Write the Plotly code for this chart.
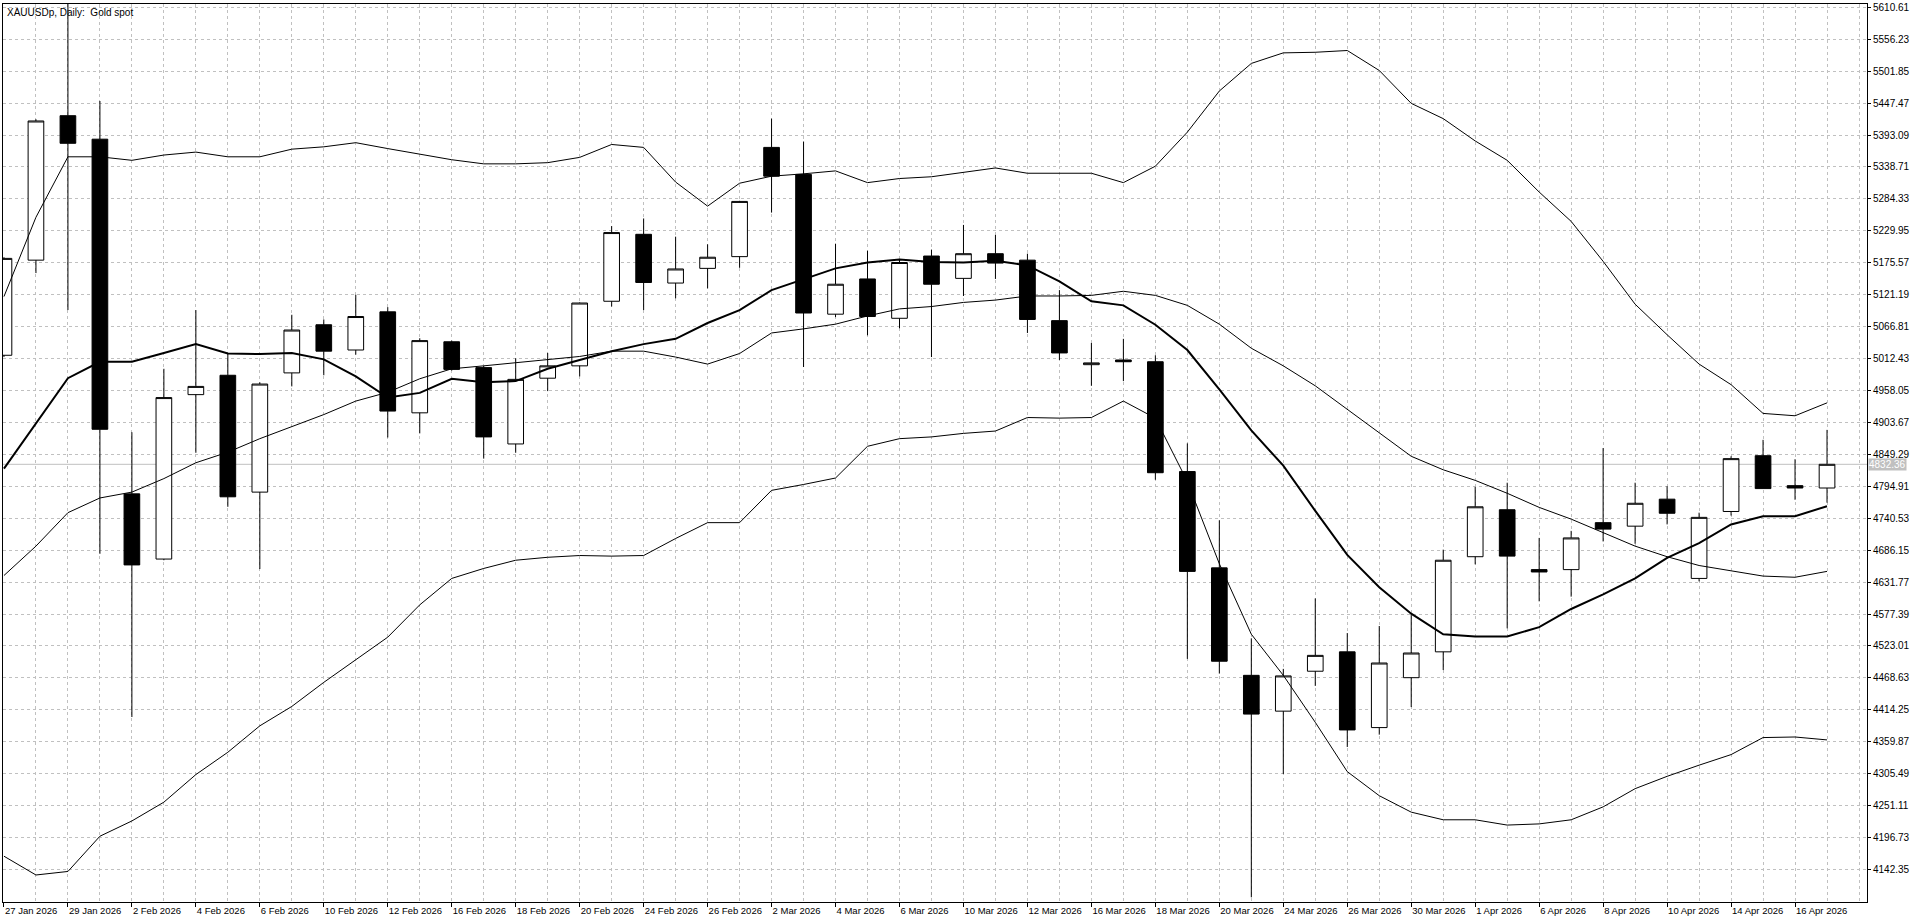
import plotly.graph_objects as go

# daily bars, XAUUSDp
dates = ["27 Jan 2026", "28 Jan 2026", "29 Jan 2026", "30 Jan 2026", "2 Feb 2026", "3 Feb 2026",
         "4 Feb 2026", "5 Feb 2026", "6 Feb 2026", "9 Feb 2026", "10 Feb 2026", "11 Feb 2026",
         "12 Feb 2026", "13 Feb 2026", "16 Feb 2026", "17 Feb 2026", "18 Feb 2026", "19 Feb 2026",
         "20 Feb 2026", "23 Feb 2026", "24 Feb 2026", "25 Feb 2026", "26 Feb 2026", "27 Feb 2026",
         "2 Mar 2026", "3 Mar 2026", "4 Mar 2026", "5 Mar 2026", "6 Mar 2026", "9 Mar 2026",
         "10 Mar 2026", "11 Mar 2026", "12 Mar 2026", "13 Mar 2026", "16 Mar 2026", "17 Mar 2026",
         "18 Mar 2026", "19 Mar 2026", "20 Mar 2026", "23 Mar 2026", "24 Mar 2026", "25 Mar 2026",
         "26 Mar 2026", "27 Mar 2026", "30 Mar 2026", "31 Mar 2026", "1 Apr 2026", "2 Apr 2026",
         "6 Apr 2026", "7 Apr 2026", "8 Apr 2026", "9 Apr 2026", "10 Apr 2026", "13 Apr 2026",
         "14 Apr 2026", "15 Apr 2026", "16 Apr 2026", "17 Apr 2026"]

opens = [5018, 5180, 5426, 5386, 4782, 4671, 4951, 4984, 4785, 4988, 5070, 5027, 5092, 4920,
         5041, 4997, 4867, 4979, 5000, 5110, 5224, 5141, 5166, 5186, 5372, 5326, 5088, 5148,
         5081, 5187, 5149, 5191, 5180, 5077, 5002, 5010, 5007, 4820, 4656, 4473, 4412, 4480,
         4513, 4384, 4469, 4513, 4675, 4755, 4653, 4653, 4733, 4727, 4773, 4638, 4752, 4847,
         4796, 4792]
highs = [5185, 5420, 5626, 5451, 4887, 4995, 5095, 5022, 4972, 5087, 5079, 5121, 5100, 5047,
         5043, 5000, 5013, 5022, 5108, 5238, 5251, 5220, 5207, 5281, 5421, 5382, 5208, 5196,
         5182, 5198, 5240, 5223, 5191, 5129, 5039, 5046, 5018, 4868, 4737, 4536, 4484, 4604,
         4545, 4557, 4577, 4687, 4794, 4801, 4707, 4719, 4860, 4801, 4795, 4750, 4846, 4874,
         4841, 4891]
lows = [5015, 5158, 5095, 4680, 4402, 4669, 4852, 4760, 4654, 4965, 4984, 5019, 4878, 4885,
        4992, 4842, 4852, 4957, 4982, 5101, 5095, 5115, 5132, 5167, 5261, 4998, 5083, 5052,
        5064, 5015, 5119, 5148, 5056, 5010, 4966, 4974, 4806, 4501, 4476, 4095, 4305, 4455,
        4351, 4372, 4419, 4482, 4662, 4553, 4599, 4607, 4701, 4697, 4730, 4633, 4745, 4791,
        4772, 4767]
closes = [5183, 5417, 5379, 4892, 4661, 4946, 4965, 4777, 4969, 5061, 5025, 5084, 4923, 5043,
          4994, 4879, 4977, 5000, 5107, 5227, 5142, 5165, 5185, 5280, 5323, 5090, 5139, 5084,
          5176, 5139, 5191, 5175, 5079, 5022, 5005, 5007, 4818, 4650, 4497, 4407, 4472, 4507,
          4380, 4494, 4511, 4669, 4760, 4676, 4649, 4707, 4722, 4766, 4749, 4742, 4842, 4791,
          4792, 4832.36]

# indicator lines
ma_fast = [4825, 4902, 4979, 5007, 5007, 5022, 5037, 5021, 5020, 5022, 5011, 4982, 4946, 4954,
           4978, 4972, 4974, 4995, 5010, 5025, 5037, 5046, 5073, 5095, 5129, 5148, 5166, 5176,
           5181, 5177, 5176, 5179, 5171, 5144, 5110, 5103, 5070, 5027, 4960, 4890, 4830, 4753,
           4678, 4623, 4578, 4543, 4539, 4539, 4555, 4586, 4611, 4638, 4673, 4698, 4730, 4744,
           4744, 4761]
bb_mid = [4643, 4693, 4750, 4775, 4785, 4808, 4835, 4853, 4876, 4896, 4917, 4940, 4955, 4978,
          4995, 5000, 5005, 5011, 5016, 5025, 5025, 5015, 5003, 5021, 5056, 5063, 5071, 5085,
          5097, 5101, 5108, 5112, 5119, 5119, 5120, 5127, 5120, 5103, 5071, 5030, 5000, 4966,
          4926, 4886, 4846, 4823, 4805, 4783, 4759, 4739, 4716, 4693, 4675, 4660, 4651, 4642,
          4640, 4650]
bb_up = [5118, 5253, 5356, 5356, 5350, 5359, 5364, 5356, 5356, 5369, 5373, 5380, 5370, 5361,
         5351, 5344, 5344, 5346, 5355, 5377, 5372, 5313, 5272, 5311, 5323, 5327, 5332, 5312,
         5319, 5322, 5330, 5337, 5328, 5328, 5328, 5312, 5340, 5398, 5468, 5515, 5533, 5534,
         5537, 5503, 5447, 5421, 5383, 5350, 5296, 5246, 5178, 5105, 5053, 5003, 4968, 4919,
         4915, 4937]
bb_low = [4165, 4133, 4139, 4199, 4225, 4257, 4304, 4342, 4387, 4420, 4461, 4499, 4538, 4593,
          4638, 4655, 4669, 4674, 4677, 4676, 4677, 4706, 4733, 4733, 4788, 4798, 4809, 4863,
          4876, 4879, 4885, 4889, 4912, 4911, 4912, 4940, 4911, 4803, 4663, 4543, 4473, 4393,
          4309, 4268, 4240, 4227, 4227, 4218, 4220, 4227, 4249, 4280, 4301, 4320, 4338, 4367,
          4368, 4363]

price_ticks = [5610.61, 5556.23, 5501.85, 5447.47, 5393.09, 5338.71, 5284.33, 5229.95, 5175.57,
               5121.19, 5066.81, 5012.43, 4958.05, 4903.67, 4849.29, 4794.91, 4740.53, 4686.15,
               4631.77, 4577.39, 4523.01, 4468.63, 4414.25, 4359.87, 4305.49, 4251.11, 4196.73,
               4142.35]
last_price = 4832.36
title = "XAUUSDp, Daily:  Gold spot"

bars = list(range(len(dates)))
grid = "#c0c0c0"
font = "Liberation Sans, Arial, sans-serif"

fig = go.Figure()
fig.add_trace(go.Candlestick(
    x=bars, open=opens, high=highs, low=lows, close=closes,
    increasing=dict(line=dict(color="black", width=1), fillcolor="white"),
    decreasing=dict(line=dict(color="black", width=1), fillcolor="black"),
    whiskerwidth=0, showlegend=False, hoverinfo="skip"))

for vals, w in [(bb_up, 1), (bb_mid, 1), (bb_low, 1), (ma_fast, 2)]:
    fig.add_trace(go.Scatter(x=bars, y=vals, mode="lines",
                             line=dict(color="black", width=w),
                             showlegend=False, hoverinfo="skip"))

# current price line + label
fig.add_shape(type="line", xref="paper", x0=0, x1=1, yref="y", y0=last_price, y1=last_price,
              line=dict(color=grid, width=1), layer="below")
fig.add_annotation(xref="paper", x=1, xanchor="left", xshift=1, yref="y", y=last_price,
                   text=f"{last_price:.2f}", showarrow=False, bgcolor=grid,
                   font=dict(family=font, size=10, color="white"), borderpad=0)
fig.add_annotation(xref="paper", x=0, xanchor="left", xshift=2, yref="paper", y=1,
                   yanchor="top", yshift=-1, text=title, showarrow=False,
                   font=dict(family=font, size=10, color="black"))

fig.update_layout(
    width=1920, height=923,
    margin=dict(l=2, r=53, t=2, b=21),
    paper_bgcolor="white", plot_bgcolor="white",
    font=dict(family=font, size=10, color="black"),
    hovermode=False,
    xaxis=dict(
        range=[-0.03, 58.25], rangeslider=dict(visible=False),
        tickvals=bars[::2], ticktext=dates[::2],
        ticklabelposition="outside right", tickfont=dict(size=9.5),
        ticks="outside", ticklen=4, tickcolor="black",
        showgrid=True, gridcolor=grid, griddash="3px,3px", gridwidth=1,
        minor=dict(tick0=0, dtick=1, showgrid=True, gridcolor=grid,
                   griddash="3px,3px", gridwidth=1, ticks=""),
        showline=True, linecolor="black", linewidth=1, mirror=True,
        zeroline=False, fixedrange=True),
    yaxis=dict(
        range=[4087, 5616.2], side="right",
        tickvals=price_ticks, ticktext=[f"{v:.2f}" for v in price_ticks],
        ticklabeloverflow="allow",
        ticks="outside", ticklen=3, tickcolor="black",
        showgrid=True, gridcolor=grid, griddash="3px,3px", gridwidth=1,
        showline=True, linecolor="black", linewidth=1, mirror=True,
        zeroline=False, fixedrange=True),
)

fig.write_html("out.html", config={"displayModeBar": False},
               post_script="document.body.style.margin='0';document.body.style.overflow='hidden';")
